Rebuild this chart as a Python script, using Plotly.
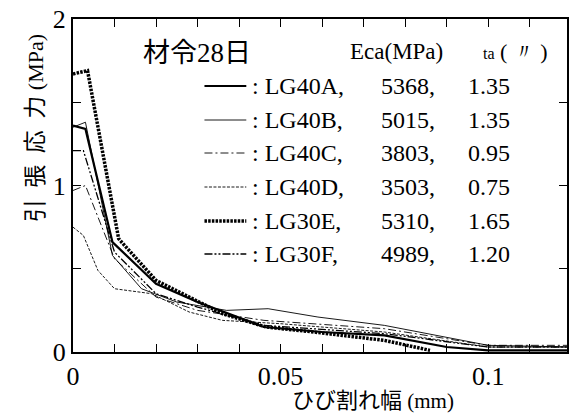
import plotly.graph_objects as go

# ---------------- data ----------------
names = ["LG40A", "LG40B", "LG40C", "LG40D", "LG30E", "LG30F"]
eca = ["5368", "5015", "3803", "3503", "5310", "4989"]
ta = ["1.35", "1.35", "0.95", "0.75", "1.65", "1.20"]

x_tickvals = [0, 0.05, 0.1]
x_ticktext = ["0", "0.05", "0.1"]
y_tickvals = [0, 1, 2]
y_ticktext = ["0", "1", "2"]

xA = [0, 0.003, 0.0095, 0.02, 0.03, 0.046, 0.06, 0.075, 0.09, 0.1, 0.12]
yA = [1.36, 1.34, 0.66, 0.41, 0.30, 0.15, 0.12, 0.10, 0.03, 0.01, 0.01]

xB = [0, 0.003, 0.0095, 0.0165, 0.025, 0.037, 0.047, 0.059, 0.075, 0.1, 0.12]
yB = [1.35, 1.38, 0.58, 0.38, 0.30, 0.25, 0.26, 0.21, 0.16, 0.04, 0.03]

xC = [0, 0.003, 0.01, 0.02, 0.03, 0.046, 0.075, 0.1, 0.12]
yC = [0.97, 1.00, 0.56, 0.33, 0.25, 0.19, 0.14, 0.04, 0.04]

xD = [0, 0.0025, 0.006, 0.01, 0.019, 0.028, 0.036, 0.05, 0.075, 0.1, 0.12]
yD = [0.75, 0.70, 0.49, 0.38, 0.35, 0.24, 0.19, 0.17, 0.12, 0.03, 0.03]

xE = [0, 0.0035, 0.011, 0.02, 0.036, 0.0465, 0.058, 0.075, 0.086]
yE = [1.67, 1.69, 0.68, 0.43, 0.23, 0.15, 0.12, 0.07, 0.01]

xF = [0, 0.0025, 0.01, 0.02, 0.03, 0.046, 0.075, 0.1, 0.12]
yF = [1.21, 1.21, 0.60, 0.35, 0.27, 0.16, 0.11, 0.03, 0.03]

xs = [xA, xB, xC, xD, xE, xF]
ys = [yA, yB, yC, yD, yE, yF]

styles = [
    dict(width=2.2, dash="solid"),
    dict(width=0.9, dash="solid"),
    dict(width=0.9, dash="8px,3px,2px,3px"),
    dict(width=0.9, dash="3px,1.5px"),
    dict(width=3.5, dash="2.5px,1.2px"),
    dict(width=1.3, dash="8px,2px,2px,2px,2px,2px"),
]

serif = "Liberation Serif"
cjk = "Noto Sans CJK JP"

fig = go.Figure()
for n, x, y, st in zip(names, xs, ys, styles):
    fig.add_trace(go.Scatter(x=x, y=y, mode="lines", name=n,
                             line=dict(color="black", **st), showlegend=False))

L, R, T, B = 73, 569, 19, 352
def px(x):
    return (x - L) / (R - L)
def py(y):
    return (B - y) / (B - T)

axis_common = dict(
    showline=True, linewidth=2, linecolor="black", mirror="ticks",
    ticks="inside", ticklen=8, tickwidth=1.2, tickcolor="black",
    showgrid=False, zeroline=False,
    tickfont=dict(family=serif, size=26, color="black"),
)

fig.update_xaxes(range=[0, 0.119], tickvals=x_tickvals, ticktext=x_ticktext,
                 minor=dict(dtick=0.01, ticks="inside", ticklen=8, tickwidth=1.2, tickcolor="black"),
                 **axis_common)
fig.update_yaxes(range=[0, 2], tickvals=y_tickvals, ticktext=y_ticktext,
                 minor=dict(dtick=0.5, ticks="inside", ticklen=8, tickwidth=1.2, tickcolor="black"),
                 **axis_common)

shapes = []
annotations = []

row_y = [86, 120, 153, 187, 221, 254]
for i, (n, e, t, st) in enumerate(zip(names, eca, ta, styles)):
    yy = py(row_y[i])
    shapes.append(dict(type="line", xref="paper", yref="paper",
                       x0=px(205), x1=px(247), y0=yy, y1=yy,
                       line=dict(color="black", **st)))
    annotations.append(dict(text=": " + n + ",", xref="paper", yref="paper",
                            x=px(251), y=yy, xanchor="left", yanchor="middle",
                            showarrow=False, font=dict(family=serif, size=24, color="black")))
    annotations.append(dict(text=e + ",", xref="paper", yref="paper",
                            x=px(380), y=yy, xanchor="left", yanchor="middle",
                            showarrow=False, font=dict(family=serif, size=24, color="black")))
    annotations.append(dict(text=t, xref="paper", yref="paper",
                            x=px(468), y=yy, xanchor="left", yanchor="middle",
                            showarrow=False, font=dict(family=serif, size=24, color="black")))

annotations += [
    dict(text="材令<span style='font-family:Liberation Serif'>28</span>日", xref="paper", yref="paper",
         x=px(198), y=py(50), xanchor="center", yanchor="middle", showarrow=False,
         font=dict(family=cjk, size=27, color="black")),
    dict(text="Eca(MPa)", xref="paper", yref="paper", x=px(398), y=py(52),
         xanchor="center", yanchor="middle", showarrow=False,
         font=dict(family=serif, size=23, color="black")),
    dict(text="ta<span style='font-size:22px'> ( 〃 )</span>", xref="paper", yref="paper",
         x=px(517), y=py(52), xanchor="center", yanchor="middle", showarrow=False,
         font=dict(family=serif, size=16, color="black")),
    dict(text="ひび割れ幅<span style='font-family:Liberation Serif;font-size:21px'> (mm)</span>",
         xref="paper", yref="paper", x=px(374), y=py(398),
         xanchor="center", yanchor="middle", showarrow=False,
         font=dict(family=cjk, size=22, color="black")),
    dict(text="引\u2002張\u2002応\u2002力<span style='font-family:Liberation Serif;font-size:22px'> (MPa)</span>",
         xref="paper", yref="paper", x=px(33), y=py(128), textangle=-90,
         xanchor="center", yanchor="middle", showarrow=False,
         font=dict(family=cjk, size=23, color="black")),
]

fig.update_layout(
    width=569, height=414,
    margin=dict(l=L, r=569 - R, t=T, b=414 - B, pad=0),
    paper_bgcolor="white", plot_bgcolor="white",
    shapes=shapes, annotations=annotations,
    showlegend=False,
)

fig.write_html("out.html", config={"displayModeBar": False},
               post_script="document.body.style.margin='0';document.body.style.overflow='hidden';")
